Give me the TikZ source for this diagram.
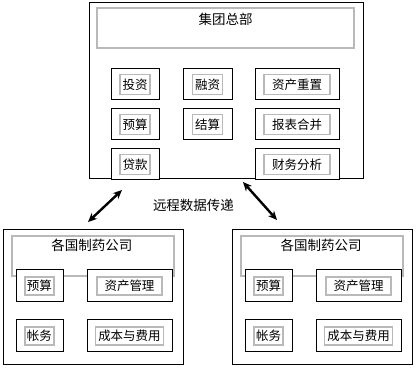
\documentclass[tikz,border=0pt]{standalone}
\usepackage{fontspec}
\newfontfamily\cjk{Noto Sans CJK SC}
\usetikzlibrary{arrows.meta}

\begin{document}
\begin{tikzpicture}[
    x=1pt, y=-1pt,
    <->, >={Stealth[length=9pt, width=8pt]},
    frame/.style={draw, line width=1pt, inner sep=0pt},
    header/.style={draw=gray!55, line width=1.6pt},
    unit/.style={draw, fill=white, line width=1pt, inner sep=0pt, minimum height=#1},
    tag/.style={draw=gray!55, line width=1.6pt, inner sep=0pt, minimum height=#1, font=\cjk\fontsize{12.5}{13}\selectfont},
    caption/.style={font=\cjk\fontsize{13.5}{14}\selectfont},
    link/.style={line width=2.4pt}
]
    \useasboundingbox (0,0) rectangle (416,369);

    % headquarters
    \node[frame, minimum width=274pt, minimum height=176pt] (hq) at (226,91) {};
    \draw[header, -] (97,8) rectangle (354,48);
    \node[caption] (hq-title) at (225.5,19) {集团总部};
    \foreach \n/\x/\y/\w/\tw/\t in {
        tz/135/84.5/48/30/投资, rz/207.5/84.5/49/30/融资, cz/297/84.5/84/66/资产重置,
        ys/135/124.5/48/30/预算, js/207.5/124.5/49/30/结算, bb/297/124.5/84/66/报表合并,
        dk/135/164.5/48/30/贷款, cw/297/164.5/84/66/财务分析}
    {
        \node[unit=31pt, minimum width=\w pt] (\n) at (\x,\y) {};
        \node[tag=20pt, minimum width=\tw pt] (\n-t) at (\n) {\t};
    }

    % subsidiaries
    \foreach \c/\dx in {L/0, R/229} {
        \begin{scope}[xshift=\dx pt]
            \node[frame, minimum width=180pt, minimum height=134pt] (co\c) at (93,297) {};
            \draw[header, -] (12,236) rectangle (174,276);
            \node[caption] (co\c-title) at (92,245) {各国制药公司};
            \foreach \n/\x/\y/\w/\tw/\t in {
                ys/39.5/286/47/29/预算, zg/129.5/286/85/65/资产管理,
                zw/39.5/336/47/29/帐务, cb/129.5/336/85/68/成本与费用}
            {
                \node[unit=32pt, minimum width=\w pt] (\n\c) at (\x,\y) {};
                \node[tag=18pt, minimum width=\tw pt] (\n\c-t) at (\n\c) {\t};
            }
        \end{scope}
    }

    % remote data link
    \coordinate (lA) at (88,222);
    \coordinate (lB) at (122,190);
    \coordinate (rA) at (243,182);
    \coordinate (rB) at (277,220);
    \draw[link] (lA) -- (lB);
    \draw[link] (rA) -- (rB);
    \node[caption] (transfer) at (193.5,205) {远程数据传递};
\end{tikzpicture}
\end{document}
